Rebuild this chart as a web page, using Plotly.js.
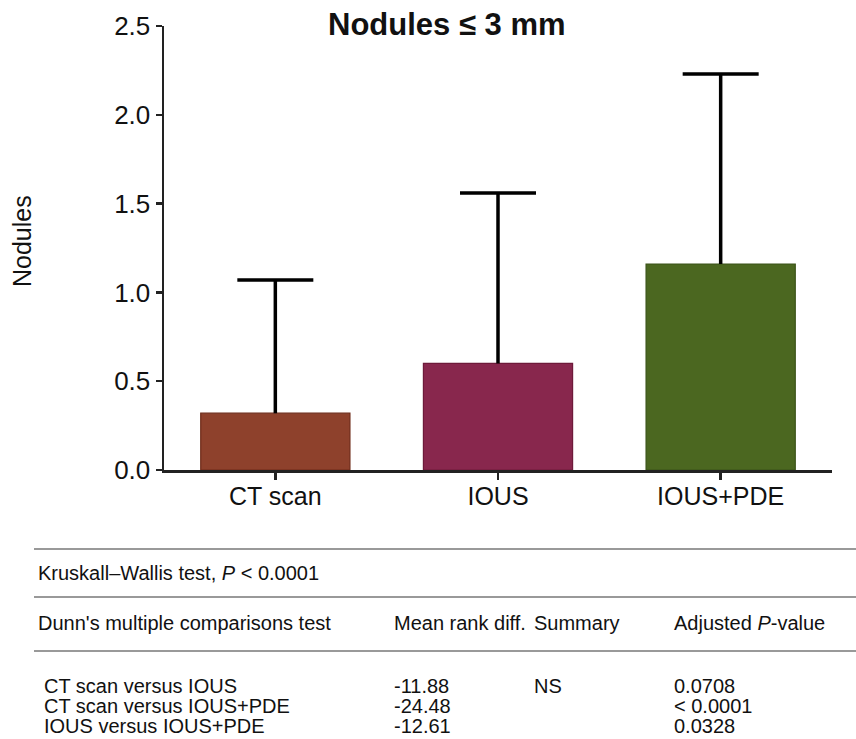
<!DOCTYPE html>
<html>
<head>
<meta charset="utf-8">
<script src="https://cdn.plot.ly/plotly-3.0.1.min.js"></script>
<style>html,body{margin:0;padding:0;background:#fff;}#chart{width:856px;height:739px;}</style>
</head>
<body>
<div id="chart"></div>
<script>
// ---- data ----
var categories = ["CT scan", "IOUS", "IOUS+PDE"];
var means = [0.32, 0.60, 1.16];
var sdUpper = [0.75, 0.96, 1.07];
var barColors = ["#8E412C", "#88274D", "#4B6720"];
var barEdges = ["#6E2A18", "#6E1A3A", "#3A5318"];
var yTicks = [0, 0.5, 1.0, 1.5, 2.0, 2.5];

var chartTitle = "<b>Nodules \u2264 3 mm</b>";
var yTitle = "Nodules";
var kwText = "Kruskall\u2013Wallis test, <i>P</i> &lt; 0.0001";
var headers = ["Dunn's multiple comparisons test", "Mean rank diff.", "Summary", "Adjusted <i>P</i>-value"];
var comparisons = ["CT scan versus IOUS", "CT scan versus IOUS+PDE", "IOUS versus IOUS+PDE"];
var meanRankDiff = ["-11.88", "-24.48", "-12.61"];
var summary = ["NS", "", ""];
var adjustedP = ["0.0708", "&lt; 0.0001", "0.0328"];

// ---- layout helpers (pixel -> paper) ----
var W = 856, H = 739;
var mL = 164, mR = 24, mT = 26, mB = 269;
var pw = W - mL - mR, ph = H - mT - mB;
function px(X) { return (X - mL) / pw; }
function py(Y) { return (H - mB - Y) / ph; }

var FONT = "Liberation Sans, Arial, Helvetica, sans-serif";

var zeros = means.map(function () { return 0; });
var tops = means.map(function (m, i) { return m + sdUpper[i]; });

// bars with the error-bar stem (no caps)
var barTrace = {
  type: "bar",
  x: categories,
  y: means,
  marker: { color: barColors, line: { color: barEdges, width: 1.2 } },
  error_y: {
    type: "data", symmetric: false, array: sdUpper, arrayminus: zeros,
    color: "#000", thickness: 3.5, width: 0
  },
  hoverinfo: "skip"
};
// cap at top of each error bar only
var capTrace = {
  type: "scatter", mode: "markers",
  x: categories, y: tops,
  marker: { size: 1, color: "rgba(0,0,0,0)" },
  error_y: { type: "data", array: zeros, color: "#000", thickness: 3.5, width: 38 },
  hoverinfo: "skip"
};

var annotations = [];
function txt(t, X, Y, size, opts) {
  var a = {
    text: t, xref: "paper", yref: "paper", x: px(X), y: py(Y),
    xanchor: "left", yanchor: "middle", showarrow: false,
    font: { family: FONT, size: size, color: "#111" }
  };
  if (opts) for (var k in opts) a[k] = opts[k];
  annotations.push(a);
}
txt(chartTitle, 447, 25, 31, { xanchor: "center" });
txt(yTitle, 22, 241, 25, { xanchor: "center", textangle: -90 });

var TS = 20;
var colX = [36, 392, 532, 672];
txt(kwText, 36, 573, TS);
for (var i = 0; i < headers.length; i++) txt(headers[i], colX[i], 623, TS);
var rowY = [686, 706, 726];
for (var r = 0; r < comparisons.length; r++) {
  txt(comparisons[r], 42, rowY[r], TS);
  txt(meanRankDiff[r], colX[1], rowY[r], TS);
  if (summary[r]) txt(summary[r], colX[2], rowY[r], TS);
  txt(adjustedP[r], colX[3], rowY[r], TS);
}

var lineYs = [549, 597, 651];
var shapes = lineYs.map(function (Y) {
  return {
    type: "line", xref: "paper", yref: "paper",
    x0: px(34), x1: px(856), y0: py(Y), y1: py(Y),
    line: { color: "#777", width: 1.3 }
  };
});

var layout = {
  width: W, height: H,
  margin: { l: mL, r: mR, t: mT, b: mB, pad: 0 },
  paper_bgcolor: "#fff", plot_bgcolor: "#fff",
  showlegend: false,
  bargap: 0.33,
  font: { family: FONT, color: "#111" },
  xaxis: {
    type: "category", range: [-0.5, 2.5],
    showline: true, linecolor: "#222", linewidth: 2.5,
    ticks: "outside", ticklen: 7, tickwidth: 2.5, tickcolor: "#222",
    showgrid: false, zeroline: false,
    ticklabelstandoff: -5,
    tickfont: { family: FONT, size: 25, color: "#111" }
  },
  yaxis: {
    range: [0, 2.5], tickvals: yTicks, tickformat: ".1f",
    showline: true, linecolor: "#222", linewidth: 2.5,
    ticks: "outside", ticklen: 6, tickwidth: 2.5, tickcolor: "#222",
    showgrid: false, zeroline: false,
    tickfont: { family: FONT, size: 26, color: "#111" }
  },
  annotations: annotations,
  shapes: shapes
};

Plotly.newPlot("chart", [barTrace, capTrace], layout, { displayModeBar: false, staticPlot: true });
</script>
</body>
</html>
